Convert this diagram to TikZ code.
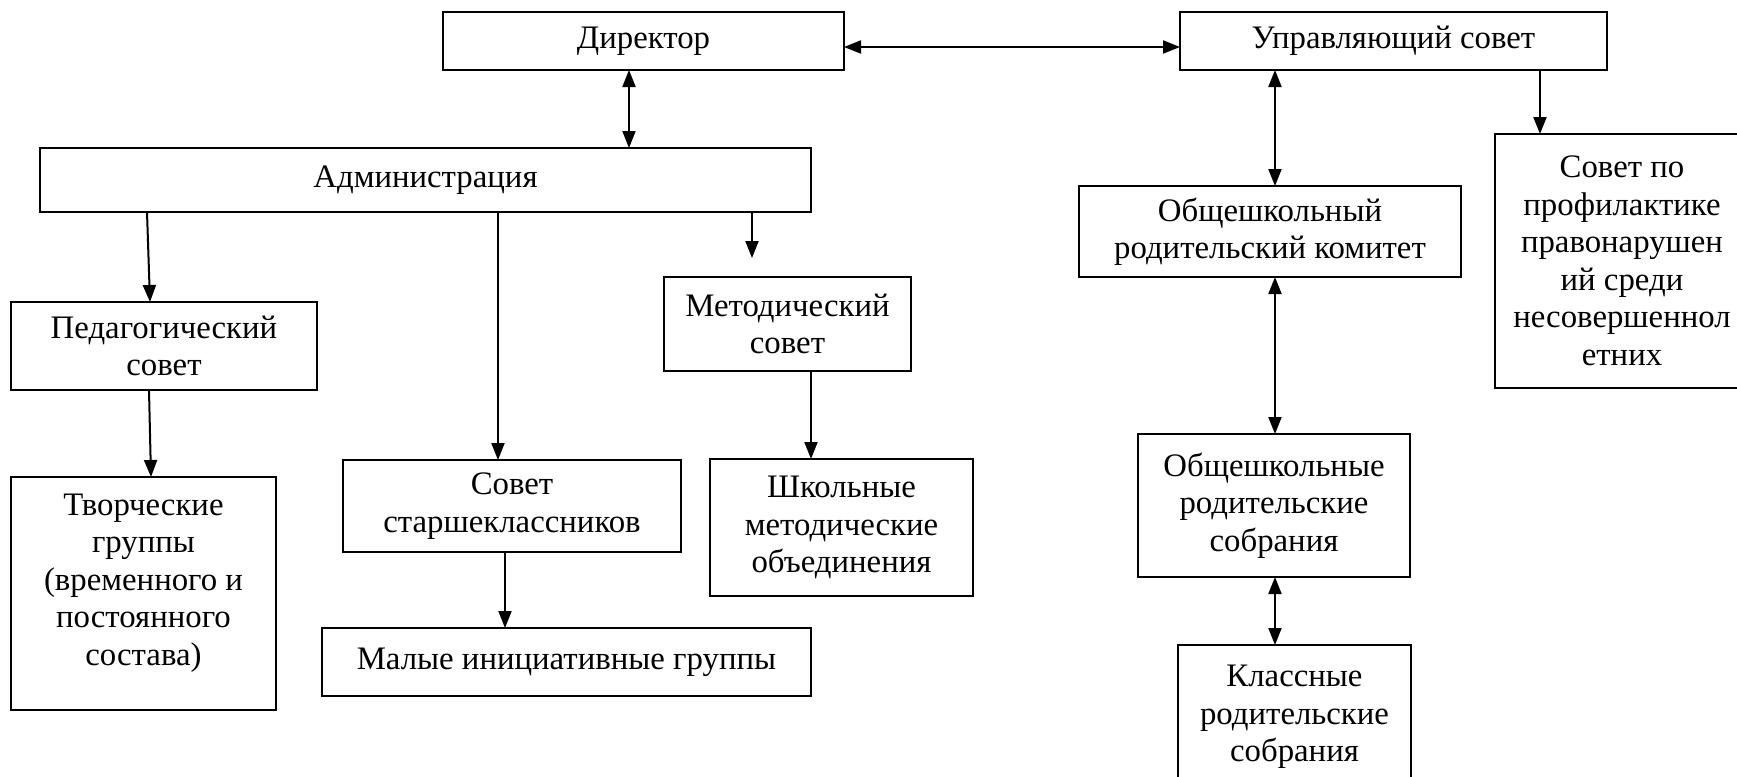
\documentclass[tikz,border=0pt]{standalone}
\usepackage{fontspec}
\setmainfont{Liberation Serif}
\usepackage{tikz}
\usetikzlibrary{positioning,arrows.meta}

\begin{document}
\begin{tikzpicture}[font=\fontsize{16.4}{18.75}\selectfont, terminal/.style={
	rectangle, line width = 1pt, draw = black, fill = white, align = center, inner sep = 2pt, outer sep = 0pt},
	link/.style={line width = 1pt, -{Triangle[length=8.5pt,width=6.5pt]}},
	twoway/.style={line width = 1pt, {Triangle[length=8.5pt,width=6.5pt]}-{Triangle[length=8.5pt,width=6.5pt]}}]
	\useasboundingbox (0,0) rectangle (868.5pt,-388.5pt);
	\node (D) [terminal, minimum width=200.5pt, minimum height=29pt, anchor=north west] at (221.5pt,-6pt) {Директор};
	\node (U) [terminal, minimum width=213.5pt, minimum height=29pt, right=168pt of D.north east, anchor=north west] {Управляющий совет};
	\node (A) [terminal, minimum width=385.5pt, minimum height=32pt, below left=39pt and 201.5pt of D.south west, anchor=north west] {Администрация};
	\node (P) [terminal, minimum width=153pt, minimum height=44pt, below left=45pt and 14.5pt of A.south west, anchor=north west] {Педагогический\\совет};
	\node (T) [terminal, minimum width=132.5pt, minimum height=116.5pt, below=43.5pt of P.south west, anchor=north west] {Творческие\\группы\\(временного и\\постоянного\\состава)\\[-5pt]};
	\node (S) [terminal, minimum width=169pt, minimum height=46pt, below right=124pt and 151.5pt of A.south west, anchor=north west] {Совет\\старшеклассников};
	\node (M) [terminal, minimum width=244.5pt, minimum height=34pt, below left=38pt and 10.5pt of S.south west, anchor=north west] {Малые инициативные группы};
	\node (MS) [terminal, minimum width=123.5pt, minimum height=47pt, below left=32.5pt and 73.5pt of A.south east, anchor=north west] {Методический\\совет};
	\node (SH) [terminal, minimum width=131.5pt, minimum height=68.5pt, below right=44pt and 23pt of MS.south west, anchor=north west] {Школьные\\методические\\объединения};
	\node (K) [terminal, minimum width=191pt, minimum height=45.5pt, below left=58pt and 50.5pt of U.south west, anchor=north west] {Общешкольный\\родительский комитет};
	\node (OS) [terminal, minimum width=136pt, minimum height=71.5pt, below right=78.5pt and 29.5pt of K.south west, anchor=north west] {Общешкольные\\родительские\\собрания};
	\node (KS) [terminal, minimum width=116.5pt, minimum height=72pt, below right=34pt and 20pt of OS.south west, anchor=north west] {Классные\\родительские\\собрания};
	\node (SP) [terminal, minimum width=127pt, minimum height=127pt, below left=32pt and 56pt of U.south east, anchor=north west] {Совет по\\профилактике\\правонарушен\\ий среди\\несовершеннол\\етних};
	\draw [twoway] ([yshift=-3pt]D.east) -- ([yshift=-3pt]U.west);
	\draw [twoway] ([xshift=-7.25pt]D.south) -- ([xshift=-7.25pt]D.south |- A.north);
	\draw [link] ([xshift=53.5pt]A.south west) -- ([xshift=-7pt]P.north);
	\draw [link] ([xshift=-7.5pt]P.south) -- ([xshift=3.75pt]T.north);
	\draw [link] ([xshift=-7pt]S.north |- A.south) -- ([xshift=-7pt]S.north);
	\draw [link, shorten >=9.5pt] ([xshift=-17.75pt]MS.north |- A.south) -- ([xshift=-17.75pt]MS.north);
	\draw [link] ([xshift=-3.5pt]S.south) -- ([xshift=-3.5pt]S.south |- M.north);
	\draw [link] ([xshift=11.75pt]MS.south) -- ([xshift=11.75pt]MS.south |- SH.north);
	\draw [twoway] ([xshift=2.5pt]K.north |- U.south) -- ([xshift=2.5pt]K.north);
	\draw [link] ([xshift=22.5pt]SP.north west |- U.south) -- ([xshift=22.5pt]SP.north west);
	\draw [twoway] ([xshift=0.5pt]OS.north |- K.south) -- ([xshift=0.5pt]OS.north);
	\draw [twoway] ([xshift=0.5pt]OS.south) -- ([xshift=0.5pt]OS.south |- KS.north);
\end{tikzpicture}
\end{document}
